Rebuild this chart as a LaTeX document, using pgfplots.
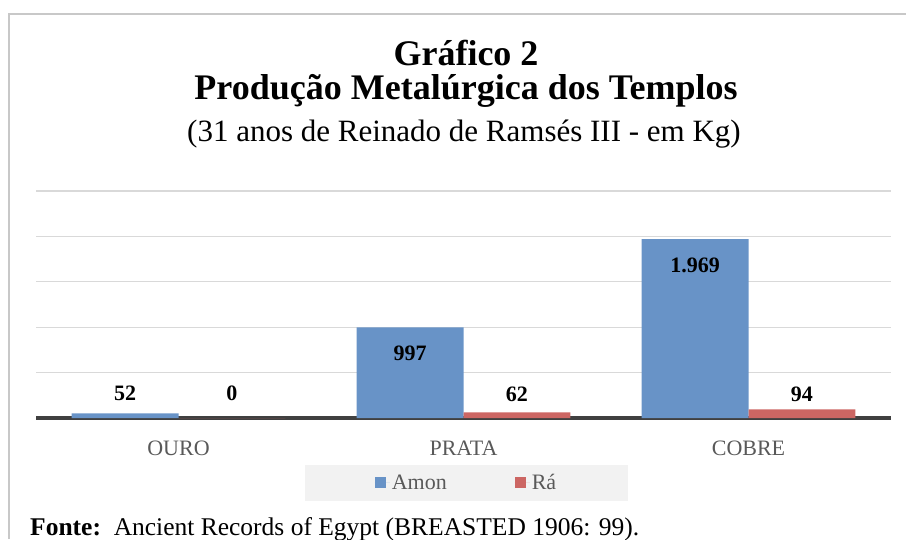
\documentclass[border=0pt]{standalone}
\usepackage{fontspec}
\setmainfont{Liberation Serif}
\usepackage{pgfplots}
\pgfplotsset{compat=1.18}
\usepackage{pgfplotstable}
\definecolor{amon}{HTML}{6893C7}
\definecolor{ra}{HTML}{CC6663}
\definecolor{gridc}{HTML}{D9D9D9}
\definecolor{basec}{HTML}{404040}
\definecolor{labc}{HTML}{595959}
\definecolor{framec}{HTML}{C8C8C8}
\definecolor{legbg}{HTML}{F2F2F2}

\pgfplotstableread{
x y
0 52
1 997
2 1969
}\amondata
\pgfplotstableread{
x y
0 0
1 62
2 94
}\radata
\pgfplotstableread{
x ly lab
-0.1875 270 52
0.1875 270 0
0.8125 710 997
1.1875 259 62
1.8125 1679 1.969
2.1875 259 94
}\labdata

\begin{document}
\begin{tikzpicture}[x=1pt,y=1pt]
\path[use as bounding box] (0,0) rectangle (906,539);
% frame
\draw[framec, line width=1.5pt] (9,0) -- (9,525) -- (906,525);
% titles
\node[anchor=base, inner sep=0] at (466,473) {\fontsize{36}{40}\selectfont\bfseries Gráfico 2};
\node[anchor=base, inner sep=0] at (466,439) {\fontsize{36}{40}\selectfont\bfseries Produção Metalúrgica dos Templos};
\node[anchor=base, inner sep=0] at (464,397) {\fontsize{31}{36}\selectfont (31 anos de Reinado de Ramsés III - em Kg)};
% source
\node[anchor=base west, inner sep=0] at (30,4) {\fontsize{25.5}{30}\selectfont\textbf{Fonte:}\ \ Ancient Records of Egypt (BREASTED 1906: 99).};
\begin{axis}[
  at={(36pt,121pt)}, anchor=south west,
  scale only axis, width=855pt, height=227pt,
  xmin=-0.5, xmax=2.5, ymin=0, ymax=2500,
  axis line style={draw=none},
  major tick length=0pt,
  xtick={0,1,2}, xticklabels={OURO,PRATA,COBRE},
  xticklabel style={anchor=base, yshift=-37pt, font=\fontsize{22}{26}\selectfont, text=labc, inner sep=0pt},
  ytick={500,1000,1500,2000,2500}, yticklabels={},
  ymajorgrids, grid style={gridc, line width=1.2pt},
  extra y ticks={0}, extra y tick labels={},
  extra y tick style={grid style={basec, line width=3.5pt}},
  clip=false,
  legend columns=2,
  legend style={at={(0.5035,-0.2863)}, anchor=center, fill=legbg, draw=none,
    font=\fontsize{22}{26}\selectfont, text=labc, inner xsep=70pt, inner ysep=8pt,
    /tikz/every even column/.append style={column sep=66pt}},
  legend image code/.code={\fill[#1] (0pt,-5.5pt) rectangle (11pt,5.5pt); \path (0pt,0pt) -- (15pt,0pt);},
]
\addplot[ybar, bar width=0.375, bar shift=-0.1875, fill=amon, draw=none] table[x=x,y=y] {\amondata};
\addlegendentry{Amon}
\addplot[ybar, bar width=0.375, bar shift=0.1875, fill=ra, draw=none] table[x=x,y=y] {\radata};
\addlegendentry{Rá}
\addplot[draw=none, mark=none, nodes near coords, point meta=explicit symbolic,
  every node near coord/.style={anchor=center, font=\fontsize{22}{26}\selectfont\bfseries, text=black, inner sep=0pt},
  forget plot] table[x=x, y=ly, meta=lab] {\labdata};
\end{axis}
\end{tikzpicture}
\end{document}
